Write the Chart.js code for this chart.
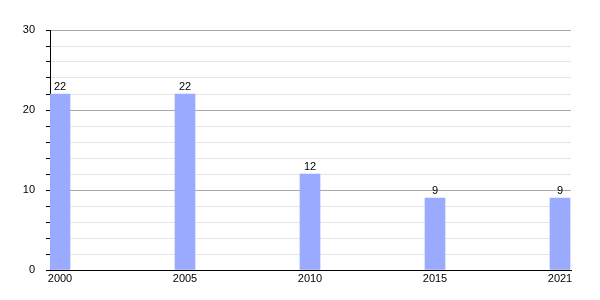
<!DOCTYPE html>
<html>
<head>
<meta charset="utf-8">
<script src="https://cdn.jsdelivr.net/npm/chart.js@4/dist/chart.umd.min.js"></script>
<style>
  html, body { margin: 0; padding: 0; background: #fff; }
  #wrap { width: 600px; height: 300px; }
</style>
</head>
<body>
<div id="wrap"><canvas id="chart"></canvas></div>
<script>
const years = ['2000', '2005', '2010', '2015', '2021'];
const values = [22, 22, 12, 9, 9];
const yTicks = [0, 10, 20, 30];

// bars sit at slot index + small offset so the first bar touches the y axis
const slotOffset = 0.08;

const valueLabels = {
    id: 'valueLabels',
    afterDatasetsDraw(chart) {
        const ctx = chart.ctx;
        ctx.save();
        ctx.font = '11px "Liberation Sans", Arial, sans-serif';
        ctx.fillStyle = '#000';
        ctx.textAlign = 'center';
        ctx.textBaseline = 'bottom';
        chart.getDatasetMeta(0).data.forEach((bar, i) => {
            ctx.fillText(values[i], bar.x, bar.y - 2);
        });
        ctx.restore();
    }
};

Chart.defaults.font.family = '"Liberation Sans", Arial, sans-serif';
Chart.defaults.font.size = 11;
Chart.defaults.color = '#000';

new Chart(document.getElementById('chart'), {
    type: 'bar',
    data: {
        datasets: [{
            data: values.map((v, i) => ({ x: i + slotOffset, y: v })),
            backgroundColor: '#99aaff',
            barThickness: 20,
            borderWidth: 0
        }]
    },
    options: {
        responsive: true,
        maintainAspectRatio: false,
        animation: false,
        layout: { padding: { top: 30, right: 29, left: 0, bottom: 0 } },
        plugins: { legend: { display: false }, tooltip: { enabled: false } },
        scales: {
            x: {
                type: 'linear',
                offset: false,
                min: 0,
                max: 4.168,
                grid: { display: false, drawTicks: false },
                border: { display: true, color: '#000', width: 1 },
                afterBuildTicks: scale => {
                    scale.ticks = years.map((_, i) => ({ value: i + slotOffset }));
                },
                ticks: {
                    padding: 2,
                    autoSkip: false,
                    maxRotation: 0,
                    callback: (v, i) => years[i]
                },
                afterFit: scale => { scale.height = 30; }
            },
            y: {
                min: 0,
                max: 30,
                grid: {
                    color: c => yTicks.includes(c.tick.value) ? '#a8a8a8' : '#e6e6e6',
                    tickColor: '#000',
                    tickLength: 4
                },
                border: { display: true, color: '#000', width: 1 },
                ticks: {
                    stepSize: 2,
                    autoSkip: false,
                    padding: 11,
                    callback: v => yTicks.includes(v) ? v : ''
                },
                afterFit: scale => { scale.width = 50; }
            }
        }
    },
    plugins: [valueLabels]
});
</script>
</body>
</html>
